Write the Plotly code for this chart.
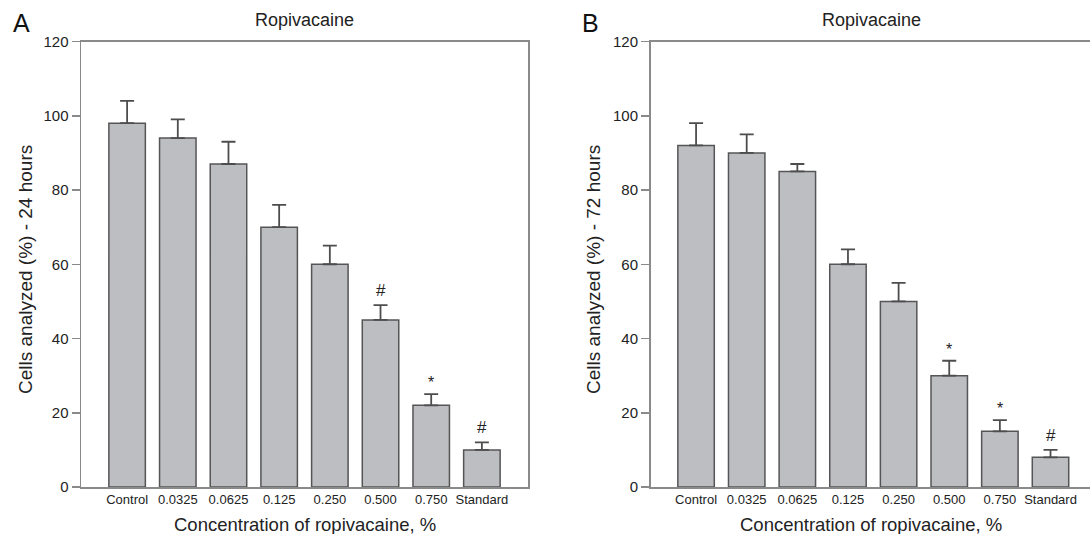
import plotly.graph_objects as go

categories = ["Control", "0.0325", "0.0625", "0.125", "0.250", "0.500", "0.750", "Standard"]
values_24h = [98, 94, 87, 70, 60, 45, 22, 10]
errors_24h = [6, 5, 6, 6, 5, 4, 3, 2]
marks_24h = ["", "", "", "", "", "#", "*", "#"]
values_72h = [92, 90, 85, 60, 50, 30, 15, 8]
errors_72h = [6, 5, 2, 4, 5, 4, 3, 2]
marks_72h = ["", "", "", "", "", "*", "*", "#"]
y_ticks = [0, 20, 40, 60, 80, 100, 120]

FONT = "Liberation Sans, Arial, Helvetica, sans-serif"
BAR_FILL = "#bdbec2"
EDGE = "#555555"
AXIS = "#8a8a8a"
TXT = "#222222"

W, H = 1090, 534
def px_x(p):
    return p / W
def px_y(p):
    return 1 - p / H

fig = go.Figure()

for vals, errs, xa, ya in [
    (values_24h, errors_24h, "x", "y"),
    (values_72h, errors_72h, "x2", "y2"),
]:
    fig.add_trace(go.Bar(
        x=categories, y=vals, xaxis=xa, yaxis=ya,
        width=0.72,
        marker=dict(color=BAR_FILL, line=dict(color=EDGE, width=1.5)),
        error_y=dict(type="data", array=errs, symmetric=False, arrayminus=[0] * len(errs),
                     color="#4d4d4d", thickness=1.8, width=7),
        showlegend=False, hoverinfo="skip",
    ))

yd = [px_y(487), px_y(41.5)]
axis_common = dict(showgrid=False, zeroline=False, showline=True, linecolor=AXIS, linewidth=1.5)
ytick_style = dict(ticks="outside", ticklen=8, tickcolor=AXIS, tickwidth=1.5,
                   tickfont=dict(size=15, color=TXT))

fig.update_layout(
    width=W, height=H,
    margin=dict(l=0, r=0, t=0, b=0, autoexpand=False),
    paper_bgcolor="white", plot_bgcolor="white",
    font=dict(family=FONT, color=TXT),
    xaxis=dict(domain=[px_x(81), px_x(528)], type="category", range=[-0.91, 7.91],
               mirror=True, ticks="", tickfont=dict(size=13, color=TXT), **axis_common),
    yaxis=dict(domain=yd, range=[0, 120], tickvals=y_ticks, mirror=True, **ytick_style,
               **axis_common),
    xaxis2=dict(domain=[px_x(650.5), 1.0], type="category", range=[-0.9, 7.78], anchor="y2",
                mirror=True, ticks="", tickfont=dict(size=13, color=TXT), **axis_common),
    yaxis2=dict(domain=yd, range=[0, 120], tickvals=y_ticks, anchor="x2", mirror=False,
                **ytick_style, **axis_common),
)

ann = []
# Significance marks
for vals, errs, marks, xr, yr in [
    (values_24h, errors_24h, marks_24h, "x", "y"),
    (values_72h, errors_72h, marks_72h, "x2", "y2"),
]:
    for i, (v, e, m) in enumerate(zip(vals, errs, marks)):
        if m:
            ann.append(dict(x=i, y=v + e, xref=xr, yref=yr, text=m, showarrow=False,
                            yanchor="bottom", yshift=3 if m == "#" else 1,
                            font=dict(size=17 if m == "#" else 16, family=FONT, color=TXT)))

# Panel letters and titles
for cx, letter in [(21.5, "A"), (590, "B")]:
    ann.append(dict(x=px_x(cx), y=px_y(22.5), xref="paper", yref="paper", text=letter,
                    showarrow=False, xanchor="center", yanchor="middle",
                    font=dict(size=25, family=FONT, color="#111")))
for cx in [304.5, 871]:
    ann.append(dict(x=px_x(cx), y=px_y(20), xref="paper", yref="paper", text="Ropivacaine",
                    showarrow=False, xanchor="center", yanchor="middle",
                    font=dict(size=18, family=FONT, color=TXT)))
# Axis titles
for cx, t in [(25, "Cells analyzed (%) - 24 hours"), (593, "Cells analyzed (%) - 72 hours")]:
    ann.append(dict(x=px_x(cx), y=px_y(270), xref="paper", yref="paper", text=t, textangle=-90,
                    showarrow=False, xanchor="center", yanchor="middle",
                    font=dict(size=19, family=FONT, color=TXT)))
for cx in [304.5, 871]:
    ann.append(dict(x=px_x(cx), y=px_y(524), xref="paper", yref="paper",
                    text="Concentration of ropivacaine, %", showarrow=False,
                    xanchor="center", yanchor="middle", font=dict(size=18.5, family=FONT, color=TXT)))

fig.update_layout(annotations=ann)
fig.write_html(
    "out.html",
    config={"displayModeBar": False, "staticPlot": True},
    post_script="document.body.style.margin='0';document.body.style.overflow='hidden';",
)
